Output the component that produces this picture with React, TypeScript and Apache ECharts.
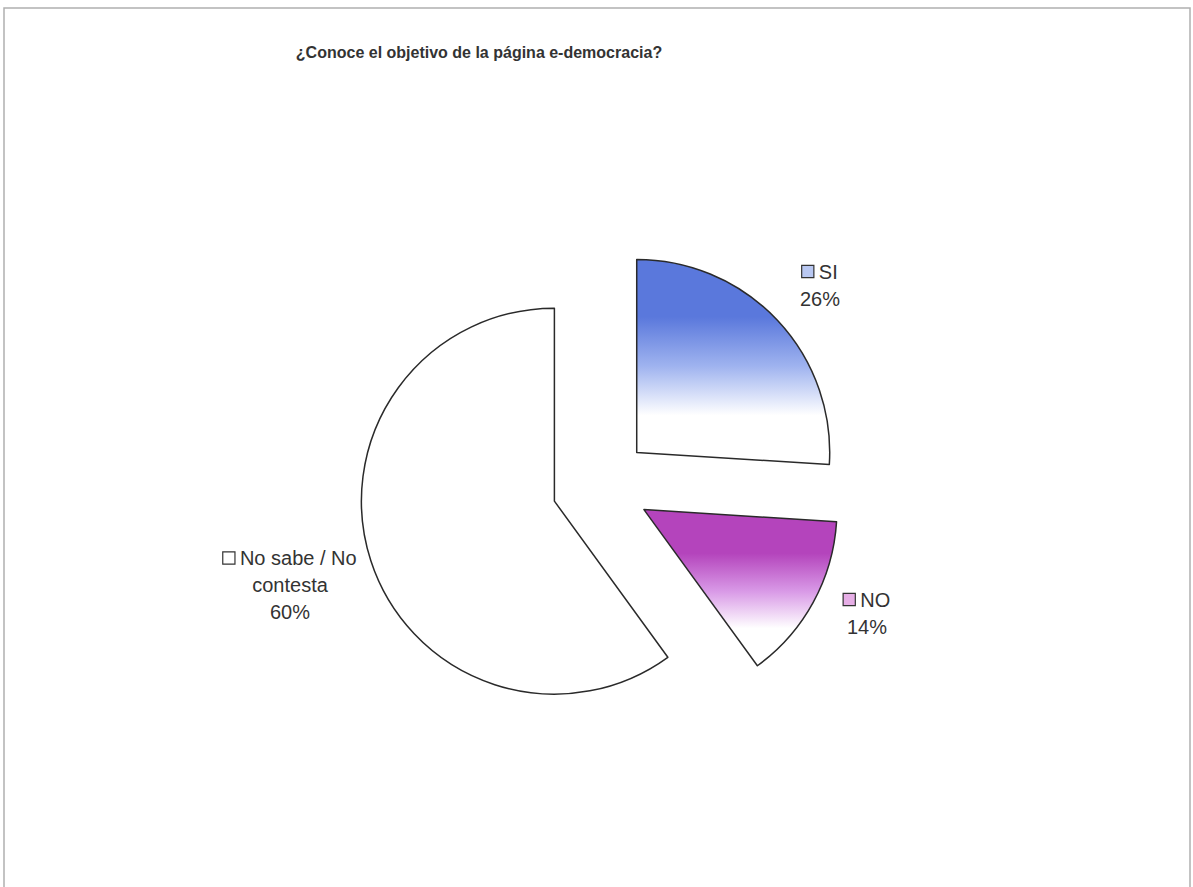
import React, { useEffect, useRef } from "react";
import * as echarts from "echarts";

const TITLE = "¿Conoce el objetivo de la página e-democracia?";
const categories = ["SI", "NO", "No sabe / No contesta"];
const values = [26, 14, 60];
const labelNames = ["SI", "NO", "No sabe / No\ncontesta"];
const topColors = ["#5a78dc", "#b444bc", "#ffffff"];
const midColors = ["#9fb3ef", "#d898e6", "#ffffff"];
const markerColors = ["#b9c8f2", "#e6aee6", "#ffffff"];
const labelPos = [
  [820, 285],
  [867, 613],
  [290, 585],
];

export default function App() {
  const ref = useRef<HTMLDivElement>(null);
  useEffect(() => {
    if (!ref.current) return;
    const chart = echarts.init(ref.current, undefined, { renderer: "svg" });
    const total = values.reduce((a, b) => a + b, 0);
    const data = categories.map((name, i) => ({
      name,
      value: values[i],
      selected: true,
      itemStyle: {
        color: new echarts.graphic.LinearGradient(0, 0, 0, 1, [
          { offset: 0, color: topColors[i] },
          { offset: 0.28, color: topColors[i] },
          { offset: 0.52, color: midColors[i] },
          { offset: 0.76, color: "#ffffff" },
          { offset: 1, color: "#ffffff" },
        ]),
      },
    }));
    const labelGraphics = categories.map((name, i) => {
      const lines = labelNames[i].split("\n");
      lines[0] = "{m|} {t|" + lines[0] + "}";
      for (let k = 1; k < lines.length; k++) lines[k] = "{t|" + lines[k] + "}";
      const pct = Math.round((values[i] / total) * 100);
      return {
        type: "text",
        x: labelPos[i][0],
        y: labelPos[i][1],
        silent: true,
        style: {
          text: lines.join("\n") + "\n{t|" + pct + "%}",
          textAlign: "center",
          textVerticalAlign: "middle",
          align: "center",
          verticalAlign: "middle",
          fill: "#333",
          font: "20px 'Liberation Sans', Arial, sans-serif",
          lineHeight: 27,
          rich: {
            m: {
              width: 11,
              height: 11,
              backgroundColor: markerColors[i],
              borderColor: "#333",
              borderWidth: 1.2,
            },
            t: {
              fontSize: 20,
              fill: "#333",
              fontFamily: "Liberation Sans",
              lineHeight: 27,
            },
          },
        },
      };
    });
    chart.setOption({
      animation: false,
      backgroundColor: "#ffffff",
      graphic: [
        {
          type: "rect",
          shape: { x: 4, y: 8, width: 1186, height: 900 },
          style: { fill: "none", stroke: "#b0b0b0", lineWidth: 1.5 },
          silent: true,
          z: -10,
        },
        {
          type: "text",
          x: 479,
          y: 52,
          style: {
            text: TITLE,
            fill: "#333",
            font: "bold 16px 'Liberation Sans', Arial, sans-serif",
            textAlign: "center",
            textVerticalAlign: "middle",
          },
        },
        ...labelGraphics,
      ],
      series: [
        {
          type: "pie",
          center: [601, 486],
          radius: 193,
          startAngle: 90,
          clockwise: true,
          selectedMode: "multiple",
          selectedOffset: 49,
          avoidLabelOverlap: false,
          itemStyle: { borderColor: "#2a2a2a", borderWidth: 1.5 },
          label: { show: false },
          labelLine: { show: false },
          emphasis: { disabled: true },
          data,
        },
      ],
    });
    return () => chart.dispose();
  }, []);
  return (
    <div
      ref={ref}
      style={{ position: "fixed", left: 0, top: 0, width: 1193, height: 887 }}
    />
  );
}
